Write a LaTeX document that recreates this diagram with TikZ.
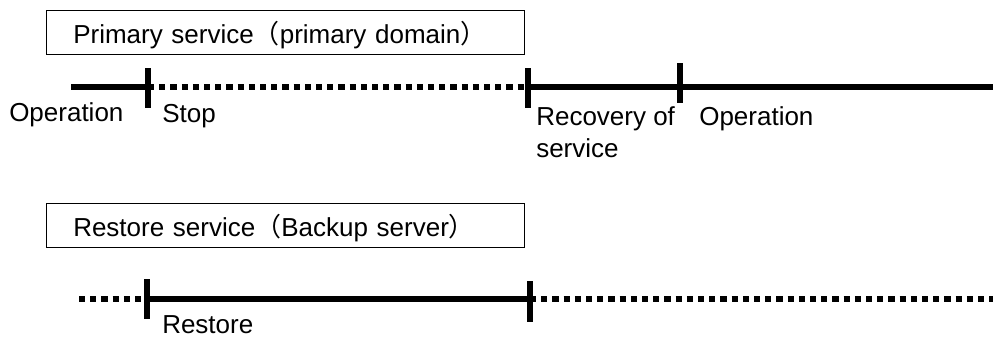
\documentclass[tikz,border=0pt]{standalone}
\usepackage{fontspec}
\setmainfont{Liberation Sans}
\newfontfamily\cjk{Noto Sans CJK JP}
\newcommand{\wlp}{{\cjk （}}
\newcommand{\wrp}{{\cjk ）}}
\begin{document}
\begin{tikzpicture}[x=0.75pt, y=-0.75pt, font=\fontsize{19.5}{24}\selectfont,
      svc/.style={draw, line width=0.9pt, anchor=north west, align=left, text width=318.5pt, inner xsep=20pt,
        minimum height=33pt, text height=18pt, text depth=1.5pt},
      run/.style={line width=4.2pt},
      idle/.style={line width=4.2pt, dash pattern=on 4.6pt off 3.8pt},
      tick/.style={line width=4pt},
      lbl/.style={anchor=base west, inner sep=0pt, align=left}]
    \useasboundingbox (0,0) rectangle (993,339);
    \node[svc] (prim) at (46,10) {Primary service\wlp primary domain\wrp};
    \node[svc] (rest) at (46,203) {Restore service\wlp Backup server\wrp};
    \coordinate (p0) at (71,87);
    \coordinate (p1) at (148,87);
    \coordinate (p2) at (528,87);
    \coordinate (p3) at (680,87);
    \coordinate (p4) at (993,87);
    \coordinate (q0) at (79,299);
    \coordinate (q1) at (147,299);
    \coordinate (q2) at (530,299);
    \coordinate (q3) at (993,299);
    \draw[run] (p0) -- (p1);
    \draw[idle] (p1) -- (p2);
    \draw[run] (p2) -- (p4);
    \draw[idle] (q0) -- (q1);
    \draw[run] (q1) -- (q2);
    \draw[idle] (q2) -- (q3);
    \draw[tick] (p1) ++(0,-19) -- ++(0,40);
    \draw[tick] (p2) ++(0,-19) -- ++(0,40);
    \draw[tick] (p3) ++(0,-24) -- ++(0,40);
    \draw[tick] (q1) ++(0,-20) -- ++(0,40);
    \draw[tick] (q2) ++(0,-18) -- ++(0,41);
    \node[lbl] (op1) at (9,121) {Operation};
    \node[lbl] (stop) at (162,122) {Stop};
    \node[lbl] (recov) at (536,157) {Recovery of\\service};
    \node[lbl] (op2) at (699,125) {Operation};
    \node[lbl] (restore) at (162,333) {Restore};
  \end{tikzpicture}
\end{document}
